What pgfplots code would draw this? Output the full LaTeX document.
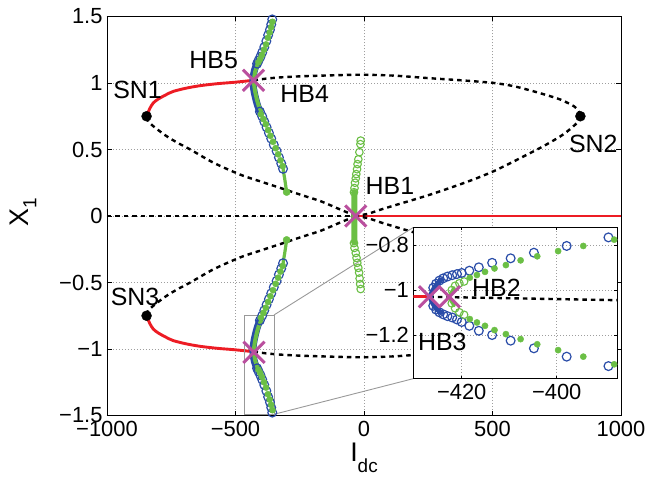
\documentclass[border=0pt]{standalone}
\usepackage{pgfplots}
\pgfplotsset{compat=1.18}
\usepackage{fontspec}
\setmainfont{Liberation Sans}

\definecolor{cred}{rgb}{0.93,0.11,0.14}
\definecolor{cblue}{rgb}{0.16,0.30,0.66}
\definecolor{cgreen}{rgb}{0.42,0.75,0.27}
\definecolor{cmag}{rgb}{0.73,0.31,0.62}
\definecolor{cgrid}{rgb}{0.62,0.62,0.62}
\definecolor{cbox}{rgb}{0.6,0.6,0.6}

\pgfplotsset{
  dashblk/.style={black, line width=2.4bp, dash pattern=on 4.5bp off 4bp, no marks},
  redln/.style={cred, line width=2.9bp, no marks},
  bluec/.style={only marks, mark=o, mark size=4.4bp, cblue, mark options={line width=1.2bp}},
  blueband/.style={cblue, line width=7bp, no marks, line cap=round},
  greend/.style={only marks, mark=*, mark size=3.1bp, cgreen},
  greenband/.style={cgreen, line width=4bp, no marks, line cap=round},
  greeno/.style={only marks, mark=o, mark size=3.8bp, cgreen, mark options={line width=1.1bp}},
  sn/.style={only marks, mark=*, mark size=5bp, black},
  hb/.style={only marks, mark=x, mark size=15bp, cmag, mark options={line width=3bp}},
  mygrid/.style={grid=major, grid style={cgrid, line width=0.5bp, dash pattern=on 1bp off 2bp}},
}
\tikzset{lbl/.style={font=\fontsize{25}{25}\selectfont, inner sep=0pt}}

\begin{document}
\begin{tikzpicture}
\path[use as bounding box] (-107bp,-67.5bp) rectangle (553bp,415.5bp);
\begin{axis}[
  at={(0,0)}, anchor=south west,
  scale only axis, width=514bp, height=399bp,
  xmin=-1000, xmax=1000, ymin=-1.5, ymax=1.5,
  xtick={-1000,-500,0,500,1000},
  xticklabels={−1000,−500,0,500,1000},
  ytick={-1.5,-1,-0.5,0,0.5,1,1.5},
  yticklabels={−1.5,−1,−0.5,0,0.5,1,1.5},
  mygrid,
  tick align=inside, major tick length=5bp,
  tick style={black, line width=0.6bp},
  axis line style={black, line width=0.8bp},
  ticklabel style={font=\fontsize{22}{22}\selectfont},
  xticklabel style={yshift=-2bp},
  yticklabel style={xshift=-1bp},
  xlabel={I\raisebox{-11bp}{\fontsize{19}{19}\selectfont dc}},
  xlabel style={at={(axis description cs:0.5,0)}, anchor=north, yshift=-27bp,
    font=\fontsize{27}{27}\selectfont, inner sep=0pt},
  ylabel={X\raisebox{-8bp}{\fontsize{19}{19}\selectfont 1}},
  ylabel style={at={(axis description cs:-0.163,0.51)}, anchor=center,
    font=\fontsize{27}{27}\selectfont, inner sep=0pt},
]
% X = 0 branch
\addplot[dashblk] coordinates {(-1000,0) (-32,0)};
\addplot[redln] coordinates {(-32,0) (1000,0)};

% upper loop
\addplot[redln, smooth] coordinates {
(-846,0.75) (-840,0.78) (-833,0.81) (-820,0.85) (-800,0.88) (-772,0.91)
(-742,0.937) (-690,0.962) (-637,0.98) (-570,0.995) (-507,1.005) (-430,1.02)};
\addplot[dashblk, smooth] coordinates {
(-430,1.02) (-380,1.033) (-327,1.042) (-250,1.05) (-172,1.055) (-80,1.06)
(3,1.062) (120,1.055) (248,1.037) (380,1.02) (506,1.0) (580,0.977)
(636,0.95) (700,0.915) (765,0.875) (817,0.825) (835,0.79) (842,0.75)};
\addplot[dashblk, smooth] coordinates {
(842,0.75) (838,0.72) (829,0.7) (800,0.65) (765,0.6) (700,0.527) (636,0.463)
(570,0.398) (506,0.338) (440,0.285) (377,0.24) (310,0.195) (248,0.155)
(180,0.115) (119,0.08) (60,0.045) (16,0.017) (-32,0)};
\addplot[dashblk, smooth] coordinates {
(-32,0) (-100,0.055) (-167,0.11) (-247,0.16) (-324,0.21) (-400,0.258)
(-480,0.31) (-585,0.4) (-676,0.5) (-725,0.55) (-768,0.6) (-810,0.66)
(-839,0.71) (-846,0.75)};

% lower loop
\addplot[redln, smooth] coordinates {
(-846,-0.75) (-840,-0.78) (-833,-0.81) (-820,-0.85) (-800,-0.88) (-772,-0.91)
(-742,-0.937) (-690,-0.962) (-637,-0.98) (-570,-0.995) (-507,-1.005) (-430,-1.02)};
\addplot[dashblk, smooth] coordinates {
(-430,-1.02) (-380,-1.033) (-327,-1.042) (-250,-1.05) (-172,-1.055) (-80,-1.06)
(3,-1.062) (120,-1.055) (248,-1.037) (380,-1.02) (506,-1.0) (580,-0.977)
(636,-0.95) (700,-0.915) (765,-0.875) (817,-0.825) (835,-0.79) (842,-0.75)};
\addplot[dashblk, smooth] coordinates {
(842,-0.75) (838,-0.72) (829,-0.7) (800,-0.65) (765,-0.6) (700,-0.527) (636,-0.463)
(570,-0.398) (506,-0.338) (440,-0.285) (377,-0.24) (310,-0.195) (248,-0.155)
(180,-0.115) (119,-0.08) (60,-0.045) (16,-0.017) (-32,0)};
\addplot[dashblk, smooth] coordinates {
(-32,0) (-100,-0.055) (-167,-0.11) (-247,-0.16) (-324,-0.21) (-400,-0.258)
(-480,-0.31) (-585,-0.4) (-676,-0.5) (-725,-0.55) (-768,-0.6) (-810,-0.66)
(-839,-0.71) (-846,-0.75)};

% zoom box and connectors
\draw[cbox, line width=0.9bp] (axis cs:-465.8,-0.744) rectangle (axis cs:-350.2,-1.491);
\draw[cbox, line width=0.9bp] (axis cs:-350.2,-0.744) -- (axis cs:191.8,-0.086);
\draw[cbox, line width=0.9bp] (axis cs:-350.2,-1.491) -- (axis cs:191.8,-1.223);

% periodic orbits from HB5 (upper)
\addplot[blueband, smooth] coordinates {
(-416,1.145) (-422,1.12) (-427,1.09) (-430,1.06) (-432,1.02) (-431,0.98)
(-428,0.94) (-422,0.886) (-414,0.83) (-405,0.785)};
\addplot[greenband, smooth] coordinates {
(-413,1.15) (-418,1.12) (-423,1.09) (-426,1.06) (-428,1.02) (-427,0.98)
(-424,0.94) (-418,0.886) (-410,0.83) (-401,0.79)};
\addplot[greenband, line width=3.2bp] coordinates {
(-316,0.37) (-312,0.32) (-307,0.26) (-301,0.18)};
\addplot[bluec] coordinates {
(-357,1.478) (-361,1.44) (-366,1.40) (-373,1.36) (-380,1.315) (-388,1.27)
(-396,1.23) (-403,1.197) (-410,1.17) (-416,1.145)
(-405,0.785) (-396,0.749) (-388,0.71) (-379,0.667) (-370,0.625) (-361,0.582)
(-351,0.535) (-340,0.488) (-331,0.44) (-322,0.395) (-315,0.355)};
\addplot[greend] coordinates {
(-356,1.46) (-361,1.42) (-367,1.38) (-374,1.34) (-381,1.29) (-389,1.25)
(-397,1.21) (-404,1.18) (-411,1.155)
(-401,0.765) (-391,0.728) (-382,0.69) (-373,0.646) (-364,0.603) (-354,0.558)
(-344,0.51) (-334,0.464) (-325,0.418) (-316,0.375)};
\addplot[only marks, mark=*, mark size=3.6bp, cgreen] coordinates {(-301,0.18)};

% periodic orbits from HB3 (lower)
\addplot[blueband, smooth] coordinates {
(-416,-1.145) (-422,-1.12) (-427,-1.09) (-430,-1.06) (-432,-1.02) (-431,-0.98)
(-428,-0.94) (-422,-0.886) (-414,-0.83) (-405,-0.785)};
\addplot[greenband, smooth] coordinates {
(-413,-1.15) (-418,-1.12) (-423,-1.09) (-426,-1.06) (-428,-1.02) (-427,-0.98)
(-424,-0.94) (-418,-0.886) (-410,-0.83) (-401,-0.79)};
\addplot[greenband, line width=3.2bp] coordinates {
(-316,-0.37) (-312,-0.32) (-307,-0.26) (-301,-0.18)};
\addplot[bluec] coordinates {
(-357,-1.478) (-361,-1.44) (-366,-1.40) (-373,-1.36) (-380,-1.315) (-388,-1.27)
(-396,-1.23) (-403,-1.197) (-410,-1.17) (-416,-1.145)
(-405,-0.785) (-396,-0.749) (-388,-0.71) (-379,-0.667) (-370,-0.625) (-361,-0.582)
(-351,-0.535) (-340,-0.488) (-331,-0.44) (-322,-0.395) (-315,-0.355)};
\addplot[greend] coordinates {
(-356,-1.46) (-361,-1.42) (-367,-1.38) (-374,-1.34) (-381,-1.29) (-389,-1.25)
(-397,-1.21) (-404,-1.18) (-411,-1.155)
(-401,-0.765) (-391,-0.728) (-382,-0.69) (-373,-0.646) (-364,-0.603) (-354,-0.558)
(-344,-0.51) (-334,-0.464) (-325,-0.418) (-316,-0.375)};
\addplot[only marks, mark=*, mark size=3.6bp, cgreen] coordinates {(-301,-0.18)};

% periodic orbits from HB1
\addplot[greenband, line width=6bp] coordinates {(-38,0.18) (-37,0) (-38,-0.2)};
\addplot[greeno] coordinates {
(-13,0.567) (-14,0.54) (-18,0.48) (-22,0.426) (-25,0.39) (-27,0.352) (-30,0.315)
(-32,0.283) (-35,0.25) (-37,0.21) (-39,0.179)
(-39,-0.204) (-37,-0.24) (-32,-0.278) (-29,-0.315) (-26,-0.352) (-22,-0.39)
(-19,-0.426) (-17,-0.47) (-15,-0.512) (-13,-0.549)};

% bifurcation points
\addplot[sn] coordinates {(-846,0.75) (842,0.75) (-846,-0.75)};
\addplot[hb] coordinates {(-430,1.02) (-32,0) (-428,-1.025)};

\node[lbl] at (axis cs:-881,0.951) {SN1};
\node[lbl] at (axis cs:892,0.540) {SN2};
\node[lbl] at (axis cs:-891,-0.609) {SN3};
\node[lbl] at (axis cs:-585,1.171) {HB5};
\node[lbl] at (axis cs:-231,0.916) {HB4};
\node[lbl] at (axis cs:101,0.226) {HB1};
\end{axis}

% inset
\begin{axis}[
  at={(306.3bp,36.8bp)}, anchor=south west,
  scale only axis, width=203.7bp, height=151.2bp,
  xmin=-430.2, xmax=-387.3, ymin=-1.394, ymax=-0.722,
  axis background/.style={fill=white},
  xtick={-420,-400}, xticklabels={−420,−400},
  ytick={-1.2,-1,-0.8}, yticklabels={−1.2,−1,−0.8},
  mygrid,
  tick align=inside, major tick length=3bp,
  tick style={black, line width=0.6bp},
  axis line style={black, line width=0.8bp},
  ticklabel style={font=\fontsize{22}{22}\selectfont},
  xticklabel style={yshift=-2bp},
  yticklabel style={xshift=-1bp},
]
\addplot[redln] coordinates {(-430.2,-1.03) (-426.8,-1.03)};
\addplot[dashblk] coordinates {(-426.8,-1.03) (-387.3,-1.045)};

\addplot[blueband, line width=5bp, smooth] coordinates {
(-424.4,-0.955) (-425.6,-0.985) (-426.6,-1.03) (-425.6,-1.075) (-424.4,-1.1)};
\addplot[bluec] coordinates {
(-426.0,-0.99) (-425.4,-0.972) (-424.7,-0.958) (-423.9,-0.948) (-423.0,-0.940)
(-422.0,-0.934) (-421.0,-0.929) (-420.0,-0.924) (-418.4,-0.914) (-416.4,-0.899)
(-413.6,-0.879) (-409.7,-0.859) (-404.8,-0.834) (-397.9,-0.804) (-389.1,-0.766)
(-426.0,-1.07) (-425.4,-1.087) (-424.7,-1.099) (-423.9,-1.108) (-423.0,-1.116)
(-422.0,-1.122) (-421.0,-1.131) (-420.0,-1.142) (-418.4,-1.159) (-416.4,-1.181)
(-413.6,-1.200) (-409.7,-1.225) (-404.8,-1.259) (-397.9,-1.296) (-389.1,-1.338)};
\addplot[greenband, line width=3bp, smooth] coordinates {
(-421.6,-0.99) (-422.6,-1.03) (-421.6,-1.07)};
\addplot[greeno] coordinates {
(-422.1,-1.0) (-421.4,-0.981) (-420.5,-0.970) (-419.5,-0.962)
(-422.1,-1.059) (-421.4,-1.081) (-420.5,-1.099) (-419.5,-1.11)};
\addplot[greend] coordinates {
(-418.3,-0.945) (-416.8,-0.933) (-415.1,-0.919) (-413.1,-0.904) (-410.7,-0.889)
(-407.6,-0.868) (-404.1,-0.850) (-399.7,-0.827) (-394.4,-0.804) (-387.9,-0.776)
(-418.3,-1.129) (-416.8,-1.144) (-415.1,-1.159) (-413.1,-1.178) (-410.7,-1.196)
(-407.6,-1.218) (-404.1,-1.241) (-399.7,-1.267) (-394.4,-1.296) (-387.9,-1.330)};
\addplot[hb] coordinates {(-426.8,-1.03) (-422.6,-1.03)};

\node[lbl] at (axis cs:-412.7,-0.988) {HB2};
\node[lbl] at (axis cs:-424.1,-1.229) {HB3};
\end{axis}
\end{tikzpicture}
\end{document}
